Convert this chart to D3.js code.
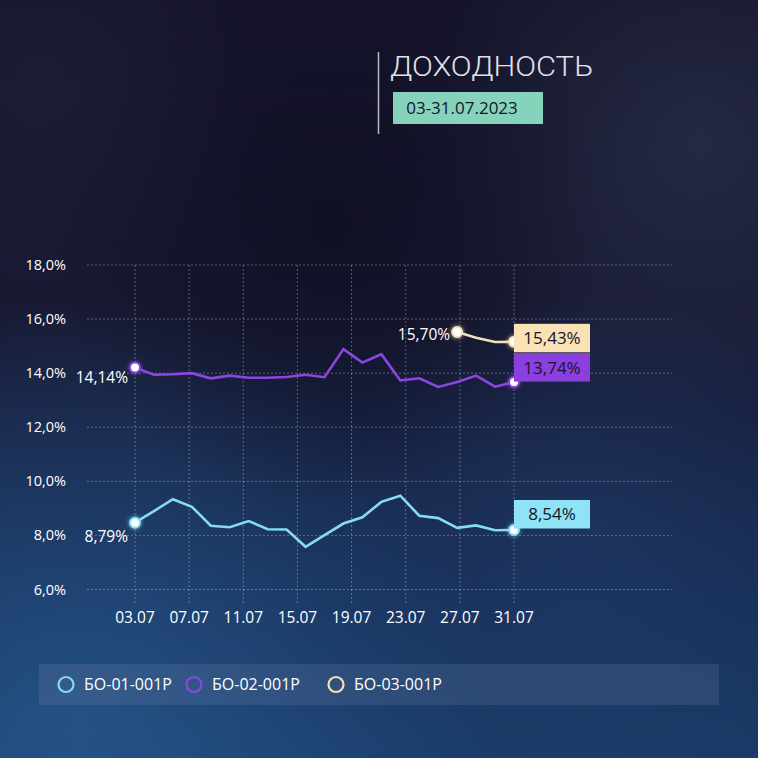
<!DOCTYPE html>
<html>
<head>
<meta charset="utf-8">
<script src="https://cdn.jsdelivr.net/npm/d3@7"></script>
<style>
  html, body { margin: 0; padding: 0; background: #131329; }
  svg { display: block; }
</style>
</head>
<body>
<div id="chart"></div>
<script>
// ---- data ----
const dates = ["03.07","04.07","05.07","06.07","07.07","10.07","11.07","12.07","13.07","14.07","17.07","18.07","19.07","20.07","21.07","24.07","25.07","26.07","27.07","28.07","31.07"];
const tickLabels = ["03.07","07.07","11.07","15.07","19.07","23.07","27.07","31.07"];
const yTicks = [6, 8, 10, 12, 14, 16, 18];
const seriesNames = ["БО-01-001Р", "БО-02-001Р", "БО-03-001Р"];
const bo01 = [8.47, 8.90, 9.34, 9.06, 8.36, 8.30, 8.53, 8.23, 8.22, 7.58, 8.01, 8.44, 8.67, 9.24, 9.47, 8.73, 8.64, 8.28, 8.37, 8.19, 8.20];
const bo02 = [14.21, 13.94, 13.96, 14.00, 13.81, 13.91, 13.83, 13.83, 13.86, 13.94, 13.85, 14.89, 14.39, 14.70, 13.73, 13.81, 13.49, 13.67, 13.91, 13.50, 13.67];
const bo03 = [null, null, null, null, null, null, null, null, null, null, null, null, null, null, null, null, null, 15.52, 15.31, 15.15, 15.16];
const startLabels = ["8,79%", "14,14%", "15,70%"];
const endLabels = ["8,54%", "13,74%", "15,43%"];
const title = "ДОХОДНОСТЬ";
const period = "03-31.07.2023";

// ---- layout / style ----
const W = 758, H = 758;
const colors = ["#86dcef", "#8c46e2", "#f3e0b3"];
const boxColors = ["#8fe3f4", "#8b3fdf", "#f9e2b6"];
const startDy = [14, 10, 3];
const boxOffset = [-30, -29, -18];
const allSeries = [bo01, bo02, bo03];

const svg = d3.select("#chart").append("svg").attr("width", W).attr("height", H);
const defs = svg.append("defs");

// background
const bg = defs.append("linearGradient").attr("id", "bg").attr("x1", 0).attr("y1", 0).attr("x2", 0).attr("y2", 1);
bg.append("stop").attr("offset", "0%").attr("stop-color", "#15142b");
bg.append("stop").attr("offset", "40%").attr("stop-color", "#181933");
bg.append("stop").attr("offset", "75%").attr("stop-color", "#172d55");
bg.append("stop").attr("offset", "100%").attr("stop-color", "#1a3b68");
svg.append("rect").attr("width", W).attr("height", H).attr("fill", "url(#bg)");

function glow(id, cx, cy, r, color, op) {
  const g = defs.append("radialGradient").attr("id", id).attr("cx", cx).attr("cy", cy).attr("r", r).attr("gradientUnits", "userSpaceOnUse");
  g.append("stop").attr("offset", "0%").attr("stop-color", color).attr("stop-opacity", op);
  g.append("stop").attr("offset", "100%").attr("stop-color", color).attr("stop-opacity", 0);
  svg.append("rect").attr("width", W).attr("height", H).attr("fill", `url(#${id})`);
}
glow("g1", 80, 720, 420, "#2f6ba6", 0.5);
glow("g2", 700, 140, 280, "#3e4a68", 0.35);
glow("g3", 580, 540, 260, "#2a4a7a", 0.3);
glow("g4", 330, 230, 280, "#0c0b1c", 0.6);
glow("g5", 40, 80, 220, "#232541", 0.45);

// scales
const x0 = 135, x1 = 514;
const x = d3.scalePoint().domain(dates).range([x0, x1]);
const xt = d3.scalePoint().domain(tickLabels).range([x0, x1]);
const y = d3.scaleLinear().domain([6, 18]).range([589.5, 265]);

// grid
const grid = svg.append("g").attr("stroke", "rgba(255,255,255,0.3)").attr("stroke-width", 1).attr("stroke-dasharray", "2,2");
grid.selectAll("line.h").data(yTicks).join("line").attr("class", "h")
  .attr("x1", 87).attr("x2", 672).attr("y1", d => y(d)).attr("y2", d => y(d));
grid.selectAll("line.v").data(tickLabels).join("line").attr("class", "v")
  .attr("x1", d => xt(d)).attr("x2", d => xt(d)).attr("y1", y(18)).attr("y2", 603);

// y labels
svg.append("g").selectAll("text").data(yTicks).join("text")
  .attr("x", 66).attr("y", d => y(d)).attr("dy", "0.35em").attr("text-anchor", "end")
  .attr("fill", "#ffffff").attr("font-family", "Open Sans").attr("font-size", 14.5)
  .text(d => d3.format(".1f")(d).replace(".", ",") + "%");

// x labels
svg.append("g").selectAll("text").data(tickLabels).join("text")
  .attr("x", d => xt(d)).attr("y", 618).attr("dy", "0.35em").attr("text-anchor", "middle")
  .attr("fill", "#ffffff").attr("font-family", "Open Sans").attr("font-size", 15.5)
  .text(d => d);

// lines
const line = d3.line().defined(d => d.v != null).x(d => x(d.date)).y(d => y(d.v));
allSeries.forEach((vals, i) => {
  const pts = dates.map((dt, k) => ({ date: dt, v: vals[k] }));
  svg.append("path").datum(pts).attr("d", line).attr("fill", "none")
    .attr("stroke", colors[i]).attr("stroke-width", 2.6).attr("stroke-linejoin", "miter");
});

// points and labels
const glowF = defs.append("filter").attr("id", "pglow").attr("x", "-100%").attr("y", "-100%").attr("width", "300%").attr("height", "300%");
glowF.append("feGaussianBlur").attr("stdDeviation", 2);
allSeries.forEach((vals, i) => {
  const idx = vals.map((v, k) => v != null ? k : -1).filter(k => k >= 0);
  const first = idx[0], last = idx[idx.length - 1];
  [first, last].forEach(k => {
    const cx = x(dates[k]), cy = y(vals[k]);
    svg.append("circle").attr("cx", cx).attr("cy", cy).attr("r", 6.5).attr("fill", colors[i]).attr("opacity", 0.6).attr("filter", "url(#pglow)");
    svg.append("circle").attr("cx", cx).attr("cy", cy).attr("r", 5).attr("fill", "#ffffff")
      .attr("stroke", colors[i]).attr("stroke-width", 2);
  });
  svg.append("text").attr("x", x(dates[first]) - 7).attr("y", y(vals[first]) + startDy[i]).attr("dy", "0.35em")
    .attr("text-anchor", "end").attr("fill", "#ffffff").attr("font-family", "Open Sans").attr("font-size", 15.5)
    .text(startLabels[i]);
  const bx = x(dates[last]), by = y(vals[last]) + boxOffset[i];
  svg.append("rect").attr("x", bx).attr("y", by).attr("width", 76).attr("height", 28.5).attr("fill", boxColors[i]);
  svg.append("text").attr("x", bx + 38).attr("y", by + 14.5).attr("dy", "0.35em").attr("text-anchor", "middle")
    .attr("fill", "#16162a").attr("font-family", "Open Sans").attr("font-size", 17)
    .text(endLabels[i]);
});

// title block
svg.append("line").attr("x1", 378.5).attr("x2", 378.5).attr("y1", 52).attr("y2", 134)
  .attr("stroke", "#b8b8c4").attr("stroke-width", 1.5);
svg.append("text").attr("x", 390).attr("y", 76).attr("fill", "#e2e2ea")
  .attr("font-family", "Roboto").attr("font-weight", 300).attr("font-size", 28)
  .attr("textLength", 203).attr("lengthAdjust", "spacingAndGlyphs")
  .text(title);
svg.append("rect").attr("x", 393).attr("y", 92).attr("width", 150).attr("height", 32).attr("fill", "#85d3bb");
svg.append("text").attr("x", 462).attr("y", 108.5).attr("dy", "0.35em").attr("text-anchor", "middle")
  .attr("fill", "#14142a").attr("font-family", "Open Sans").attr("font-size", 17)
  .text(period);

// legend
svg.append("rect").attr("x", 39).attr("y", 664).attr("width", 680).attr("height", 41)
  .attr("fill", "rgba(120,140,180,0.2)");
const legendX = [66, 194, 336];
seriesNames.forEach((name, i) => {
  svg.append("circle").attr("cx", legendX[i]).attr("cy", 684.5).attr("r", 7.5).attr("fill", "none")
    .attr("stroke", colors[i]).attr("stroke-width", 2.2);
  svg.append("text").attr("x", legendX[i] + 18).attr("y", 684.5).attr("dy", "0.35em")
    .attr("fill", "#ffffff").attr("font-family", "Open Sans").attr("font-size", 16)
    .text(name);
});
</script>
</body>
</html>
